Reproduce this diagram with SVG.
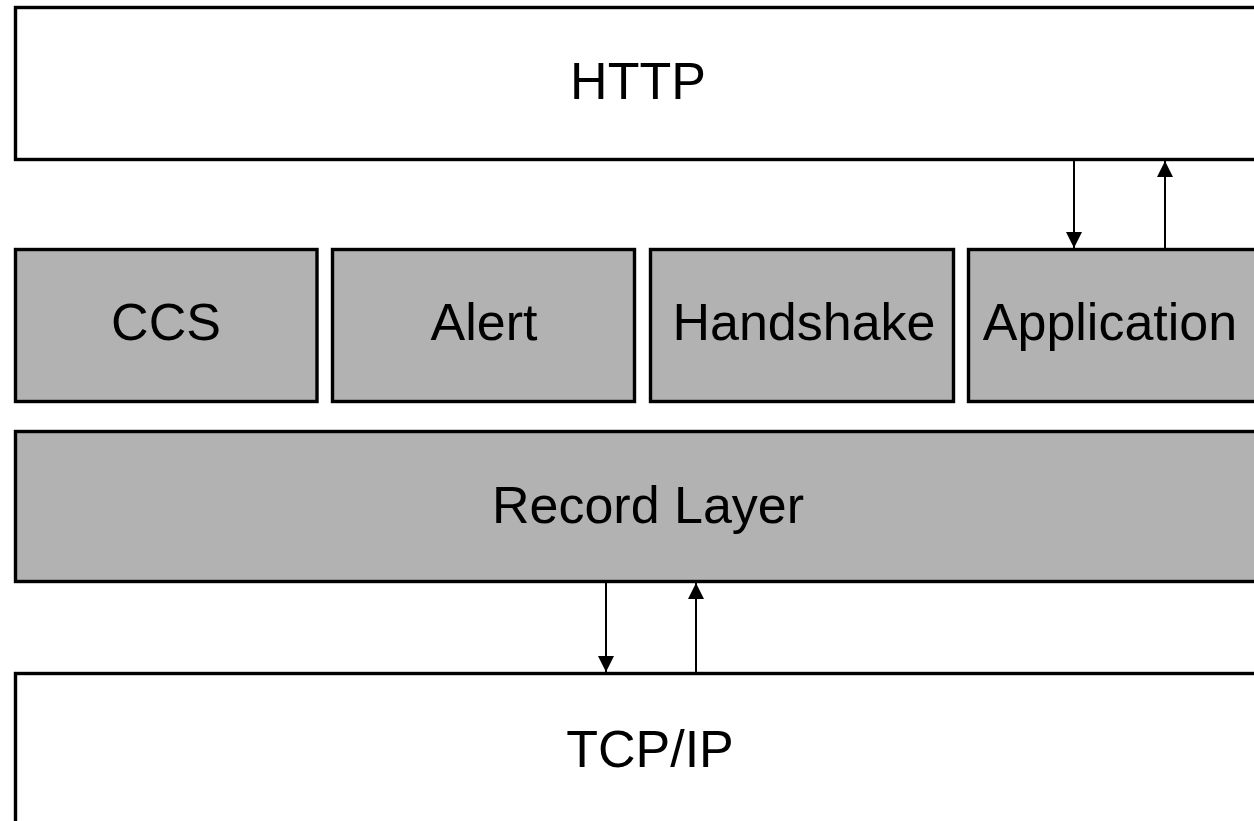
<svg xmlns="http://www.w3.org/2000/svg" width="1254" height="821" viewBox="0 0 1254 821">
  <style>
    .box { stroke: #000; stroke-width: 3.4; }
    .white { fill: #fff; }
    .grey { fill: #b2b2b2; }
    .lbl { font-family: "Liberation Sans", Arial, sans-serif; font-size: 52px; fill: #000; text-anchor: middle; }
    .conn { stroke: #000; stroke-width: 2; fill: none; }
  </style>
  <defs>
    <marker id="arr" markerUnits="userSpaceOnUse" markerWidth="16" markerHeight="16" viewBox="0 0 15 16" refX="15" refY="8" orient="auto" preserveAspectRatio="none">
      <path d="M0,0 L15,8 L0,16 Z" fill="#000"/>
    </marker>
  </defs>
  <rect width="1254" height="821" fill="#fff"/>
  <g id="http">
    <rect class="box white" x="15.5" y="7.5" width="1260" height="152"/>
    <text class="lbl" x="638" y="99">HTTP</text>
  </g>
  <g id="ccs">
    <rect class="box grey" x="15.5" y="249.5" width="301.5" height="152"/>
    <text class="lbl" x="166" y="340">CCS</text>
  </g>
  <g id="alert">
    <rect class="box grey" x="332.5" y="249.5" width="302" height="152"/>
    <text class="lbl" x="484" y="340">Alert</text>
  </g>
  <g id="handshake">
    <rect class="box grey" x="650.5" y="249.5" width="303" height="152"/>
    <text class="lbl" x="804" y="340">Handshake</text>
  </g>
  <g id="application">
    <rect class="box grey" x="968.5" y="249.5" width="300" height="152"/>
    <text class="lbl" x="1110" y="340">Application</text>
  </g>
  <g id="record">
    <rect class="box grey" x="15.5" y="431.5" width="1260" height="150"/>
    <text class="lbl" x="648" y="523">Record Layer</text>
  </g>
  <g id="tcpip">
    <rect class="box white" x="15.5" y="673.5" width="1260" height="200"/>
    <text class="lbl" x="650" y="767">TCP/IP</text>
  </g>
  <g id="connectors">
    <line class="conn" x1="1074" y1="161" x2="1074" y2="248" marker-end="url(#arr)"/>
    <line class="conn" x1="1165" y1="248" x2="1165" y2="161" marker-end="url(#arr)"/>
    <line class="conn" x1="606" y1="583" x2="606" y2="672" marker-end="url(#arr)"/>
    <line class="conn" x1="696" y1="672" x2="696" y2="583" marker-end="url(#arr)"/>
  </g>
</svg>
